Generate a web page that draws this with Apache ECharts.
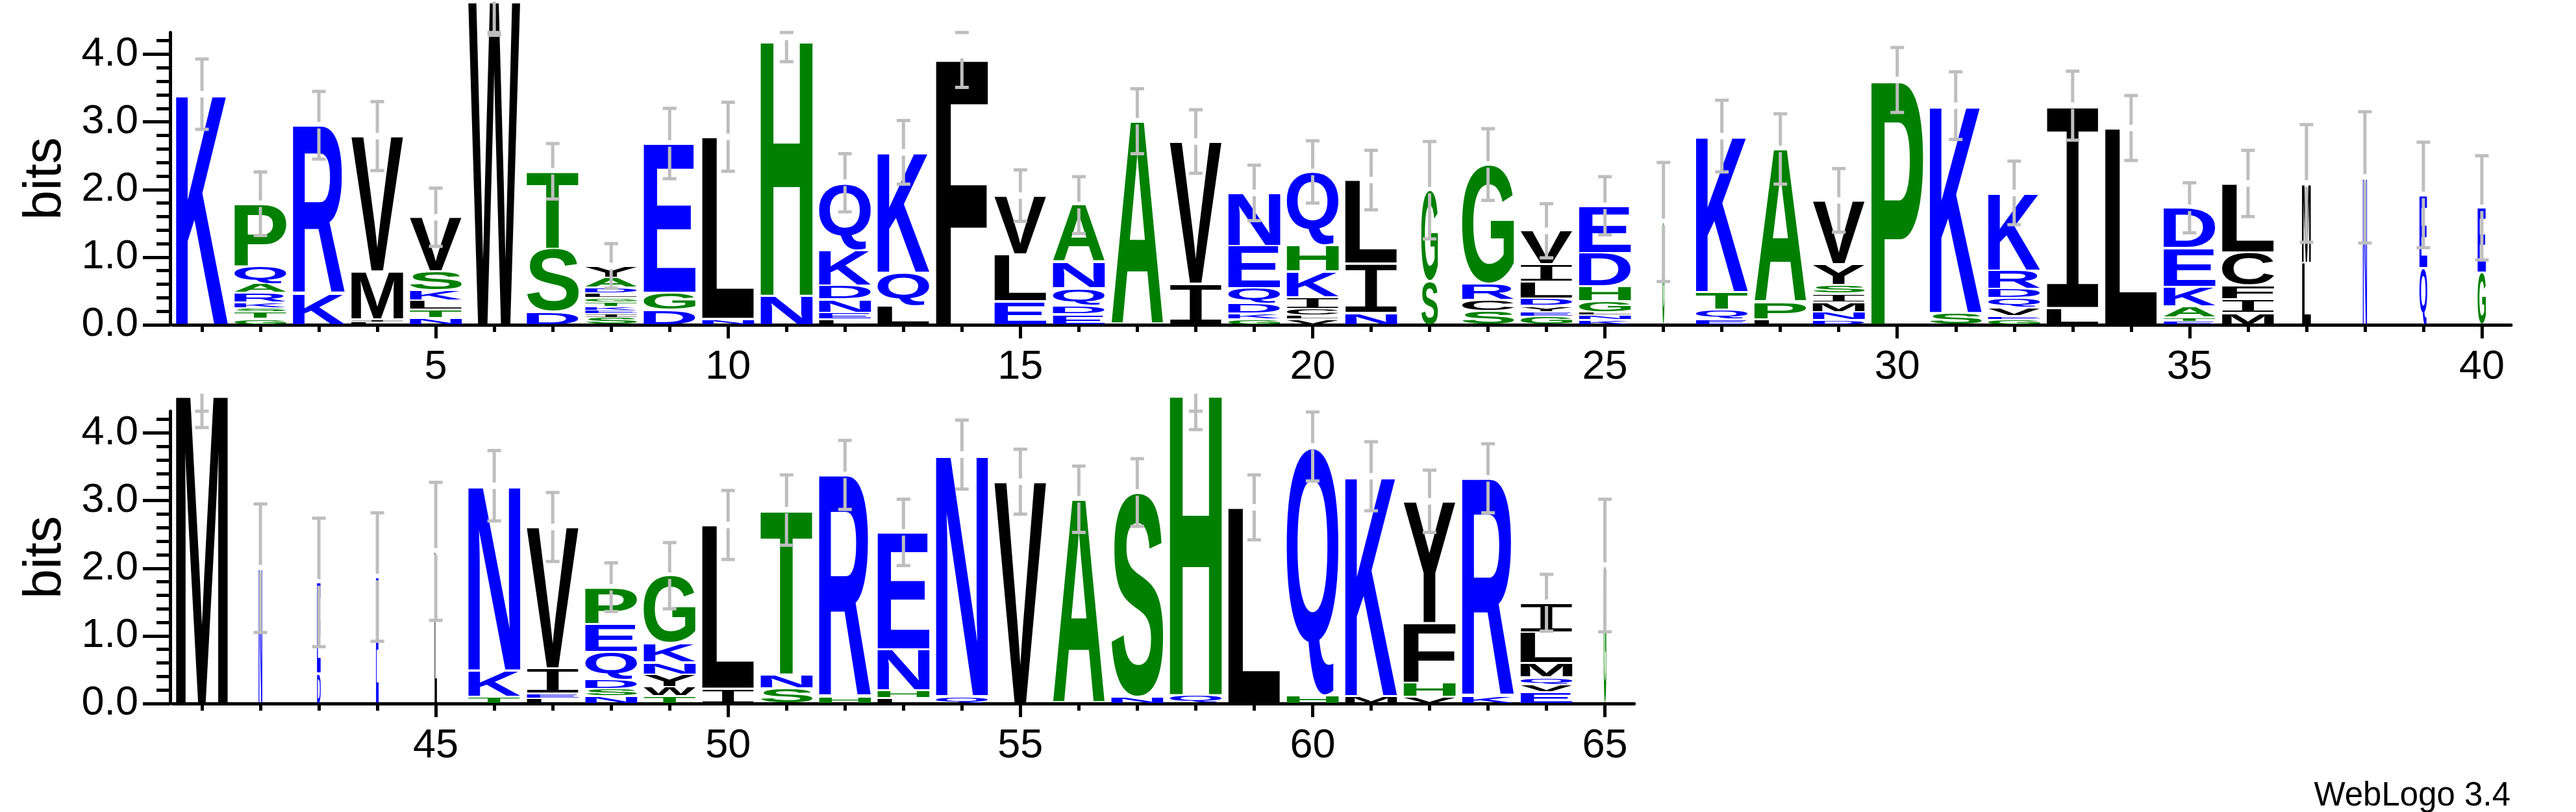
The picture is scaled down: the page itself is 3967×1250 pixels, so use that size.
<!DOCTYPE html>
<html>
<head>
<meta charset="utf-8">
<title>WebLogo</title>
<script src="https://cdn.jsdelivr.net/npm/echarts@6/dist/echarts.min.js"></script>
<style>
  html, body { margin: 0; padding: 0; background: #fff; }
  #logo { width: 3967px; height: 1250px; }
</style>
</head>
<body>
<div id="logo"></div>
<script>
// positions on the two rows
var topPositions = ['1', '2', '3', '4', '5', '6', '7', '8', '9', '10',
  '11', '12', '13', '14', '15', '16', '17', '18', '19', '20',
  '21', '22', '23', '24', '25', '26', '27', '28', '29', '30',
  '31', '32', '33', '34', '35', '36', '37', '38', '39', '40']
var bottomPositions = ['41', '42', '43', '44', '45', '46', '47', '48', '49', '50',
  '51', '52', '53', '54', '55', '56', '57', '58', '59', '60',
  '61', '62', '63', '64', '65']

// letters of each stack, bottom -> top
var stackLetters = [
  'K', 'GTSKRAQP', 'KR', 'LIMV', 'NTLKSV', 'W', 'DST', 'SIEKTGLDAY', 'DGE', 'NL',
  'NH', 'LENDKQ', 'LQK', 'F', 'ELV', 'EDQNA', 'A', 'IV', 'GKDQEN', 'VLCIKHQ',
  'NIL', 'SG', 'SCRG', 'GEYDLIV', 'KNLGHDE', 'G', 'EQTK', 'LPA', 'DNMISYV', 'P',
  'SK', 'GEVQDRK', 'LI', 'L', 'ETAKED', 'MIFCL', 'LM', 'N', 'QE', 'GE',
  'M', 'N', 'DE', 'E', 'L', 'TKN', 'LEIV', 'NSDQEP', 'TWYNKG', 'IL',
  'SNT', 'HR', 'LHNE', 'QN', 'V', 'A', 'NS', 'QH', 'L', 'HQ',
  'MK', 'VHFY', 'KR', 'EVQMLI', 'G'
]

// height of each letter in bits, same order as stackLetters
var stackBits = [
  [3.41],
  [0.09, 0.105, 0.055, 0.08, 0.145, 0.135, 0.26, 0.92],
  [0.46, 2.49],
  [0.04, 0.04, 0.71, 2.00],
  [0.10, 0.125, 0.135, 0.15, 0.28, 0.80],
  [4.78],
  [0.19, 0.94, 1.14],
  [0.11, 0.05, 0.055, 0.055, 0.07, 0.06, 0.065, 0.085, 0.15, 0.17],
  [0.22, 0.255, 2.205],
  [0.09, 2.69],
  [0.43, 3.78],
  [0.08, 0.10, 0.195, 0.21, 0.52, 0.995],
  [0.28, 0.49, 1.78],
  [3.94],
  [0.35, 0.695, 0.865],
  [0.155, 0.13, 0.255, 0.39, 0.84],
  [3.01],
  [0.61, 2.10],
  [0.08, 0.09, 0.145, 0.23, 0.625, 0.78],
  [0.085, 0.05, 0.105, 0.17, 0.38, 0.39, 1.08],
  [0.18, 0.73, 1.23],
  [0.645, 1.345],
  [0.20, 0.165, 0.235, 1.77],
  [0.125, 0.065, 0.09, 0.11, 0.245, 0.265, 0.49],
  [0.075, 0.07, 0.04, 0.165, 0.22, 0.495, 0.695],
  [1.52],
  [0.09, 0.135, 0.26, 2.305],
  [0.085, 0.25, 2.265],
  [0.068, 0.122, 0.145, 0.125, 0.13, 0.31, 0.94],
  [3.62],
  [0.175, 3.065],
  [0.085, 0.04, 0.13, 0.14, 0.135, 0.275, 1.145],
  [0.25, 2.99],
  [2.91],
  [0.05, 0.06, 0.16, 0.29, 0.575, 0.595],
  [0.175, 0.20, 0.205, 0.495, 1.015],
  [0.92, 1.17],
  [2.18],
  [0.845, 1.075],
  [0.77, 0.96],
  [4.58],
  [2.00],
  [0.45, 1.34],
  [1.87],
  [2.25],
  [0.10, 0.39, 2.73],
  [0.08, 0.07, 0.37, 2.09],
  [0.11, 0.11, 0.135, 0.41, 0.415, 0.54],
  [0.11, 0.135, 0.185, 0.18, 0.28, 1.00],
  [0.22, 2.42],
  [0.225, 0.205, 2.43],
  [0.10, 3.28],
  [0.085, 0.11, 0.61, 1.725],
  [0.11, 3.57],
  [3.28],
  [3.02],
  [0.10, 3.02],
  [0.125, 4.455],
  [2.90],
  [0.13, 3.67],
  [0.11, 3.25],
  [0.10, 0.21, 0.88, 1.80],
  [0.11, 3.22],
  [0.17, 0.11, 0.11, 0.21, 0.455, 0.435],
  [2.04]
]

// fraction of the full stack width (columns with gaps are narrower)
var stackWidth = [
  1, 1, 1, 1, 1, 1, 1, 1, 1, 1,
  1, 1, 1, 1, 1, 1, 1, 1, 1, 1,
  1, 0.32, 1, 1, 1, 0.04, 1, 1, 1, 1,
  1, 1, 1, 1, 1, 1, 0.17, 0.08, 0.15, 0.16,
  1, 0.07, 0.07, 0.05, 0.045, 1, 1, 1, 1, 1,
  1, 1, 1, 1, 1, 1, 1, 1, 1, 1,
  1, 1, 1, 1, 0.05
]

// half length of the error bar, in bits
var errorBits = [
  0.52, 0.47, 0.50, 0.51, 0.43, 0.50, 0.41, 0.33, 0.52, 0.51,
  0.32, 0.43, 0.47, 0.43, 0.38, 0.42, 0.48, 0.47, 0.41, 0.46,
  0.44, 0.72, 0.53, 0.40, 0.43, 0.88, 0.53, 0.52, 0.47, 0.48,
  0.50, 0.47, 0.51, 0.48, 0.37, 0.49, 0.87, 0.97, 0.78, 0.77,
  0.50, 0.95, 0.95, 0.95, 1.02, 0.52, 0.51, 0.36, 0.49, 0.51,
  0.52, 0.51, 0.49, 0.51, 0.48, 0.49, 0.50, 0.53, 0.48, 0.51,
  0.51, 0.46, 0.51, 0.42, 0.98
]

var yMajorTicks = [0, 1, 2, 3, 4]
var yMinorTicks = [0.2, 0.4, 0.6, 0.8, 1.2, 1.4, 1.6, 1.8, 2.2, 2.4, 2.6, 2.8, 3.2, 3.4, 3.6, 3.8, 4.2]
var maxBits = 4.3219 // log2(20)

// hydrophobicity colours
var letterColor = {}
'RKDENQ'.split('').forEach(function(c) { letterColor[c] = '#0000ff' })
'SGHTAP'.split('').forEach(function(c) { letterColor[c] = '#008000' })
'YVMCLFIWX'.split('').forEach(function(c) { letterColor[c] = '#000000' })

var FONT = '"Liberation Sans", Arial, Helvetica, sans-serif'
var LETTER_FONT = 'bold 200px "Liberation Sans", Arial, sans-serif'
// weblogo draws I with serifs and a thin stem so it is not confused with l
var SERIF_I_FONT = '200px "Liberation Mono", monospace'
function fontFor(ch) {
  return ch === 'I' ? SERIF_I_FONT : LETTER_FONT
}

// ink box of each glyph, measured the way zrender draws it (baseline middle)
var measureCtx = document.createElement('canvas').getContext('2d')
measureCtx.textBaseline = 'middle'
measureCtx.textAlign = 'left'
var glyphCache = {}
function glyphBox(ch) {
  if (!glyphCache[ch]) {
    measureCtx.font = fontFor(ch)
    var m = measureCtx.measureText(ch)
    glyphCache[ch] = {
      l: m.actualBoundingBoxLeft,
      r: m.actualBoundingBoxRight,
      a: m.actualBoundingBoxAscent,
      d: m.actualBoundingBoxDescent
    }
  }
  return glyphCache[ch]
}

var gray = { stroke: '#bebebe', lineWidth: 5 }
function grayLine(x1, y1, x2, y2) {
  return { type: 'line', shape: { x1: x1, y1: y1, x2: x2, y2: y2 }, style: gray }
}

function makeRenderItem(offset) {
  return function(params, api) {
    var i = offset + params.dataIndex
    var base = api.coord([api.value(0), 0])
    var bitPx = api.size([0, 1])[1]
    var band = api.size([1, 0])[0]
    var w = band * 0.888 * stackWidth[i]
    var x0 = base[0] - w / 2
    var letters = stackLetters[i]
    var bits = stackBits[i]
    var children = []
    var acc = 0
    for (var k = 0; k < letters.length; k++) {
      var h = bits[k] * bitPx
      var pad = Math.min(1.5, h * 0.15)
      var yBottom = base[1] - acc * bitPx - pad
      var yTop = base[1] - acc * bitPx - h + pad
      acc += bits[k]
      var gb = glyphBox(letters[k])
      var sx = w / (gb.l + gb.r)
      var sy = (yBottom - yTop) / (gb.a + gb.d)
      children.push({
        type: 'text',
        x: x0 + gb.l * sx,
        y: yTop + gb.a * sy,
        scaleX: sx,
        scaleY: sy,
        style: {
          text: letters[k],
          x: 0,
          y: 0,
          font: fontFor(letters[k]),
          fill: letterColor[letters[k]],
          align: 'left',
          verticalAlign: 'middle'
        }
      })
    }
    // error bar, centred on the stack top
    var cx = base[0]
    var top = base[1] - acc * bitPx
    var err = errorBits[i] * bitPx
    var lo = top + err
    var hi = top - err
    var yMaxPx = api.coord([api.value(0), maxBits])[1]
    children.push(grayLine(cx - 10.5, lo, cx + 10.5, lo))
    if (hi < yMaxPx) {
      children.push(grayLine(cx, lo, cx, top))
      children.push(grayLine(cx - 10.5, yMaxPx, cx + 10.5, yMaxPx))
    } else {
      children.push(grayLine(cx, lo, cx, top + 5))
      children.push(grayLine(cx, top - 5, cx, hi))
      children.push(grayLine(cx - 10.5, hi, cx + 10.5, hi))
    }
    return { type: 'group', children: children }
  }
}

function everyFifth(index, value) {
  return Number(value) % 5 === 0
}

function xAxes(gridIndex, cats) {
  return [{
    gridIndex: gridIndex,
    type: 'category',
    position: 'bottom',
    data: cats,
    axisLine: { show: true, onZero: false, lineStyle: { color: '#000', width: 5 } },
    axisTick: { show: true, alignWithLabel: true, length: 11, lineStyle: { color: '#000', width: 5 } },
    axisLabel: { show: false },
    splitLine: { show: false }
  }, {
    gridIndex: gridIndex,
    type: 'category',
    position: 'bottom',
    data: cats,
    axisLine: { show: false, onZero: false },
    axisTick: { show: true, alignWithLabel: true, interval: everyFifth, length: 21, lineStyle: { color: '#000', width: 5 } },
    axisLabel: { show: true, interval: everyFifth, margin: 34, fontSize: 63, color: '#000', fontFamily: FONT },
    splitLine: { show: false }
  }]
}

function yAxes(gridIndex) {
  return [{
    gridIndex: gridIndex,
    type: 'value',
    position: 'left',
    offset: 4,
    min: 0,
    max: maxBits,
    interval: 1,
    axisLine: { show: true, lineStyle: { color: '#000', width: 5 } },
    axisTick: { show: true, length: 42, customValues: yMajorTicks, lineStyle: { color: '#000', width: 5 } },
    axisLabel: {
      show: true, customValues: yMajorTicks, margin: 49, fontSize: 63, color: '#000', fontFamily: FONT,
      formatter: function(v) { return v.toFixed(1) }
    },
    splitLine: { show: false }
  }, {
    gridIndex: gridIndex,
    type: 'value',
    position: 'left',
    offset: 4,
    min: 0,
    max: maxBits,
    axisLine: { show: false },
    axisTick: { show: true, length: 21, customValues: yMinorTicks, lineStyle: { color: '#000', width: 5 } },
    axisLabel: { show: false },
    splitLine: { show: false }
  }]
}

var chart = echarts.init(document.getElementById('logo'), null, { renderer: 'canvas' })

chart.setOption({
  animation: false,
  backgroundColor: '#fff',
  grid: [
    { left: 266, top: 50, width: 3601, height: 450, outerBoundsMode: 'none' },
    { left: 266, top: 633, width: 2250.6, height: 450, outerBoundsMode: 'none' }
  ],
  xAxis: xAxes(0, topPositions).concat(xAxes(1, bottomPositions)),
  yAxis: yAxes(0).concat(yAxes(1)),
  series: [{
    type: 'custom',
    xAxisIndex: 0,
    yAxisIndex: 0,
    renderItem: makeRenderItem(0),
    encode: { x: 0, y: 1 },
    data: topPositions.map(function(p, j) { return [j, 0] })
  }, {
    type: 'custom',
    xAxisIndex: 2,
    yAxisIndex: 2,
    renderItem: makeRenderItem(40),
    encode: { x: 0, y: 1 },
    data: bottomPositions.map(function(p, j) { return [j, 0] })
  }],
  graphic: [{
    type: 'text', x: 70, y: 275, rotation: Math.PI / 2,
    style: { text: 'bits', font: '82px ' + FONT, fill: '#000', align: 'center', verticalAlign: 'middle', textAlign: 'center', textVerticalAlign: 'middle' }
  }, {
    type: 'text', x: 70, y: 858, rotation: Math.PI / 2,
    style: { text: 'bits', font: '82px ' + FONT, fill: '#000', align: 'center', verticalAlign: 'middle', textAlign: 'center', textVerticalAlign: 'middle' }
  }, {
    type: 'text', x: 3866, y: 1226,
    style: { text: 'WebLogo 3.4', font: '51px ' + FONT, fill: '#000', align: 'right', verticalAlign: 'middle', textAlign: 'right', textVerticalAlign: 'middle' }
  }]
})
</script>
</body>
</html>
